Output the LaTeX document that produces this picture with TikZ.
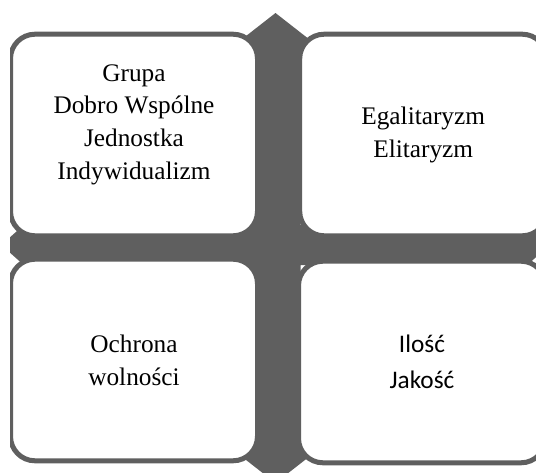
\documentclass[tikz,border=0pt]{standalone}
\usepackage{fontspec}
\setmainfont{Liberation Serif}
\newfontfamily\calibrifont{Carlito}
\usepackage{xcolor}
\usetikzlibrary{positioning}
\definecolor{crossgray}{RGB}{95,95,95}

\begin{document}
\begin{tikzpicture}[x=0.5pt, y=-0.5pt,
    quadbox/.style={draw=crossgray, line width=2.5pt, fill=white, rounded corners=12.25pt,
        minimum width=123.5pt, minimum height=100.8pt, inner sep=0pt, align=center,
        font=\fontsize{12.65}{16.4}\selectfont}]
    \useasboundingbox (0,0) rectangle (536,472);
    \clip (10,0) rectangle (536,472);

    % Four-way arrow
    \fill[crossgray] (275.5,13) -- (333.1,58) -- (300.5,58) -- (300.5,225) -- (504.7,225)
        -- (504.7,205) -- (549.7,245) -- (504.7,285) -- (504.7,265) -- (300.5,265)
        -- (300.5,438) -- (333.1,438) -- (275.5,483) -- (217.9,438) -- (250.5,438)
        -- (250.5,265) -- (46.3,265) -- (46.3,285) -- (1.3,245) -- (46.3,205)
        -- (46.3,225) -- (250.5,225) -- (250.5,58) -- (217.9,58) -- cycle;

    % Quadrants
    \node[quadbox, text depth=13pt] (group) at (134,135)
        {Grupa\\Dobro Wspólne\\Jednostka\\Indywidualizm};
    \node[quadbox] (equality) at (423.2,135) {Egalitaryzm\\Elitaryzm};
    \node[quadbox] (liberty) at (134,360) {Ochrona\\wolności};
    \node[quadbox, font=\calibrifont\fontsize{12.65}{17.8}\selectfont] (quantity) at (422,362)
        {Ilość\\Jakość};
\end{tikzpicture}
\end{document}
